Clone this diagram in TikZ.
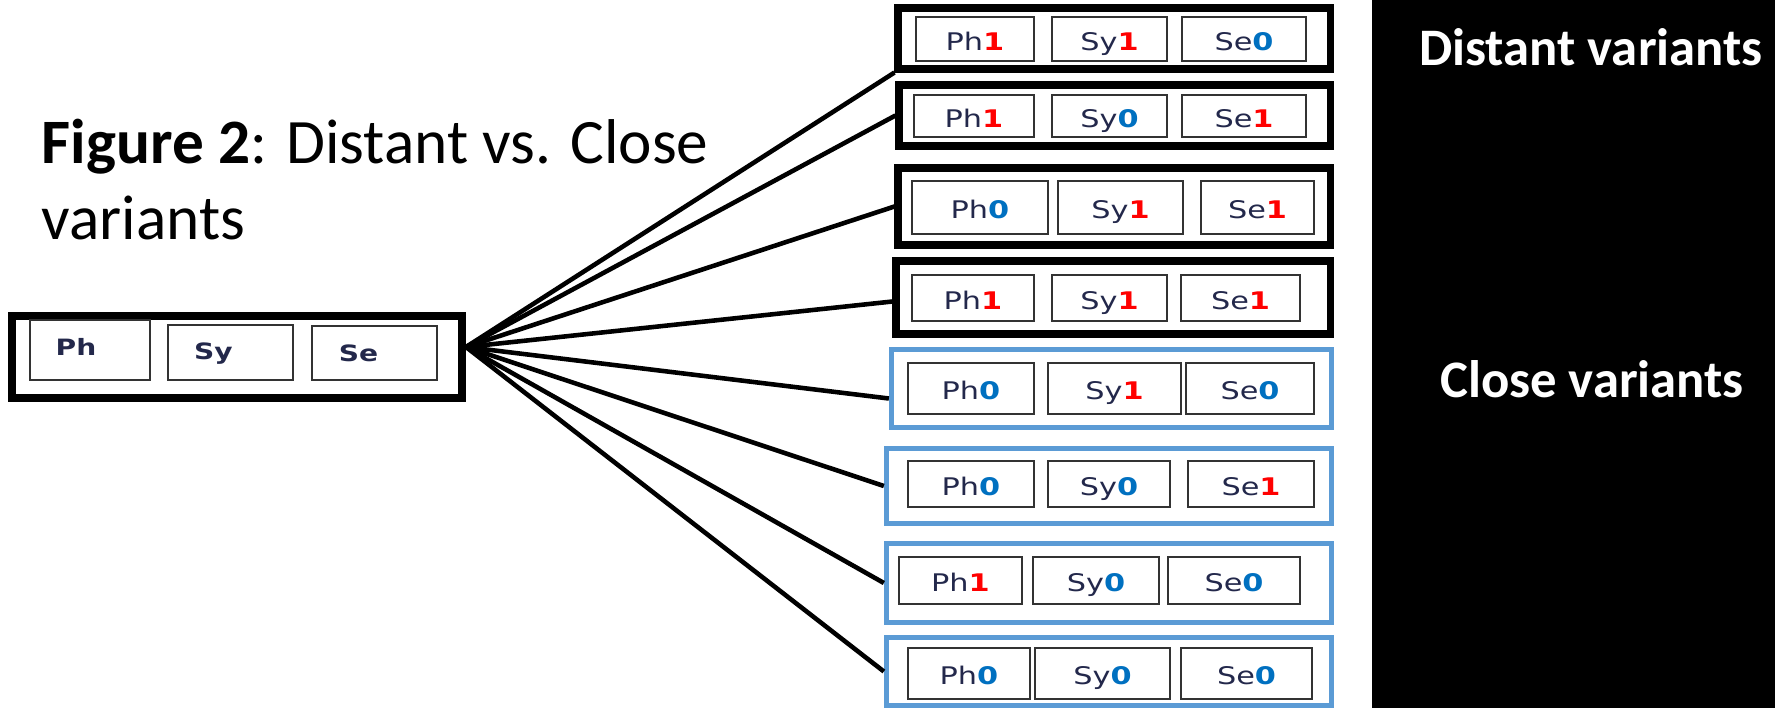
\documentclass[tikz,border=0pt]{standalone}
\usepackage{fontspec}
\setmainfont{Carlito}
\newfontfamily\cellfont[FakeStretch=1.25]{DejaVu Sans}
\definecolor{bitred}{RGB}{255,0,0}
\definecolor{bitblue}{RGB}{0,112,192}
\definecolor{closeblue}{RGB}{91,155,213}
\definecolor{celltext}{RGB}{35,40,75}
\newcommand{\bitone}{\textbf{\textcolor{bitred}{1}}}
\newcommand{\bitzero}{\textbf{\textcolor{bitblue}{0}}}
\tikzstyle{cell}    = [draw=black!80, line width=0.45pt, inner sep=0pt, text=celltext, text height=1.34ex, text depth=0pt, font=\cellfont\fontsize{6.9}{8}\selectfont]
\tikzstyle{mtext}   = [inner sep=0pt, text=celltext, text height=1.34ex, text depth=0pt, font=\cellfont\bfseries\fontsize{6.4}{8}\selectfont]
\tikzstyle{distant} = [draw=black, line width=2pt, inner sep=0pt]
\tikzstyle{close}   = [draw=closeblue, line width=1.5pt, inner sep=0pt]
\tikzstyle{fan}     = [line width=1.3pt, black]
\tikzstyle{tag}     = [text=white, anchor=base, font=\bfseries\fontsize{15}{18}\selectfont]

\begin{document}
\begin{tikzpicture}[y=-1cm]
        \useasboundingbox (0,0) rectangle (17.75,7.08);
        \fill[black] (13.72,0) rectangle (17.75,7.08);

        \node[anchor=base west, align=left, inner sep=0pt, font=\fontsize{18}{21.8}\selectfont] (caption) at (0.41,2.40) {\textbf{Figure 2}: Distant vs. Close\\variants};

        % original item
        \node[draw=black, line width=2.3pt, minimum width=4.50cm, minimum height=0.82cm] (main) at (2.37,3.57) {};
        \node[cell, minimum width=1.20cm, minimum height=0.60cm, label={[mtext, xshift=-0.14cm, yshift=0.06cm]center:Ph}] (mph) at (0.90,3.50) {};
        \node[cell, minimum width=1.25cm, minimum height=0.55cm, label={[mtext, xshift=-0.17cm, yshift=0.04cm]center:Sy}] (msy) at (2.305,3.525) {};
        \node[cell, minimum width=1.25cm, minimum height=0.54cm, label={[mtext, xshift=-0.16cm, yshift=0.03cm]center:Se}] (mse) at (3.745,3.53) {};
        \coordinate (hub) at (4.66,3.47);

        % distant variants
        \node[distant, minimum width=4.32cm, minimum height=0.61cm] (d1) at (11.14,0.385) {};
        \node[cell, minimum width=1.18cm, minimum height=0.44cm] (d1ph) at (9.75,0.39) {Ph\bitone};
        \node[cell, minimum width=1.15cm, minimum height=0.44cm] (d1sy) at (11.095,0.39) {Sy\bitone};
        \node[cell, minimum width=1.24cm, minimum height=0.44cm] (d1se) at (12.44,0.39) {Se\bitzero};

        \node[distant, minimum width=4.31cm, minimum height=0.61cm] (d2) at (11.145,1.155) {};
        \node[cell, minimum width=1.20cm, minimum height=0.42cm] (d2ph) at (9.74,1.16) {Ph\bitone};
        \node[cell, minimum width=1.15cm, minimum height=0.42cm] (d2sy) at (11.095,1.16) {Sy\bitzero};
        \node[cell, minimum width=1.24cm, minimum height=0.42cm] (d2se) at (12.44,1.16) {Se\bitone};

        \node[distant, minimum width=4.32cm, minimum height=0.77cm] (d3) at (11.14,2.065) {};
        \node[cell, minimum width=1.36cm, minimum height=0.53cm] (d3ph) at (9.80,2.075) {Ph\bitzero};
        \node[cell, minimum width=1.25cm, minimum height=0.53cm] (d3sy) at (11.205,2.075) {Sy\bitone};
        \node[cell, minimum width=1.13cm, minimum height=0.53cm] (d3se) at (12.575,2.075) {Se\bitone};

        \node[distant, minimum width=4.34cm, minimum height=0.73cm] (d4) at (11.13,2.975) {};
        \node[cell, minimum width=1.22cm, minimum height=0.46cm] (d4ph) at (9.73,2.98) {Ph\bitone};
        \node[cell, minimum width=1.15cm, minimum height=0.46cm] (d4sy) at (11.095,2.98) {Sy\bitone};
        \node[cell, minimum width=1.19cm, minimum height=0.46cm] (d4se) at (12.405,2.98) {Se\bitone};

        % close variants
        \node[close, minimum width=4.40cm, minimum height=0.78cm] (c1) at (11.115,3.885) {};
        \node[cell, minimum width=1.26cm, minimum height=0.51cm] (c1ph) at (9.71,3.885) {Ph\bitzero};
        \node[cell, minimum width=1.33cm, minimum height=0.51cm] (c1sy) at (11.145,3.885) {Sy\bitone};
        \node[cell, minimum width=1.28cm, minimum height=0.51cm] (c1se) at (12.50,3.885) {Se\bitzero};

        \node[close, minimum width=4.45cm, minimum height=0.75cm] (c2) at (11.09,4.86) {};
        \node[cell, minimum width=1.26cm, minimum height=0.46cm] (c2ph) at (9.71,4.84) {Ph\bitzero};
        \node[cell, minimum width=1.22cm, minimum height=0.46cm] (c2sy) at (11.09,4.84) {Sy\bitzero};
        \node[cell, minimum width=1.26cm, minimum height=0.46cm] (c2se) at (12.51,4.84) {Se\bitone};

        \node[close, minimum width=4.45cm, minimum height=0.79cm] (c3) at (11.09,5.83) {};
        \node[cell, minimum width=1.23cm, minimum height=0.47cm] (c3ph) at (9.605,5.805) {Ph\bitone};
        \node[cell, minimum width=1.26cm, minimum height=0.47cm] (c3sy) at (10.96,5.805) {Sy\bitzero};
        \node[cell, minimum width=1.32cm, minimum height=0.47cm] (c3se) at (12.34,5.805) {Se\bitzero};

        \node[close, minimum width=4.45cm, minimum height=0.675cm] (c4) at (11.09,6.715) {};
        \node[cell, minimum width=1.22cm, minimum height=0.51cm] (c4ph) at (9.69,6.735) {Ph\bitzero};
        \node[cell, minimum width=1.35cm, minimum height=0.51cm] (c4sy) at (11.025,6.735) {Sy\bitzero};
        \node[cell, minimum width=1.31cm, minimum height=0.51cm] (c4se) at (12.465,6.735) {Se\bitzero};

        % fan of variants
        \draw[fan] (hub) -- (d1.south west);
        \draw[fan] (hub) -- (d2.west);
        \draw[fan] (hub) -- (d3.west);
        \draw[fan] (hub) -- ([yshift=-0.04cm]d4.west);
        \draw[fan] (hub) -- ([yshift=-0.1cm]c1.west);
        \draw[fan] (hub) -- (c2.west);
        \draw[fan] (hub) -- (c3.west);
        \draw[fan] (hub) -- (c4.west);

        \node[tag] (distlabel) at (15.91,0.66) {Distant variants};
        \node[tag] (closelabel) at (15.92,3.98) {Close variants};
    \end{tikzpicture}
\end{document}
